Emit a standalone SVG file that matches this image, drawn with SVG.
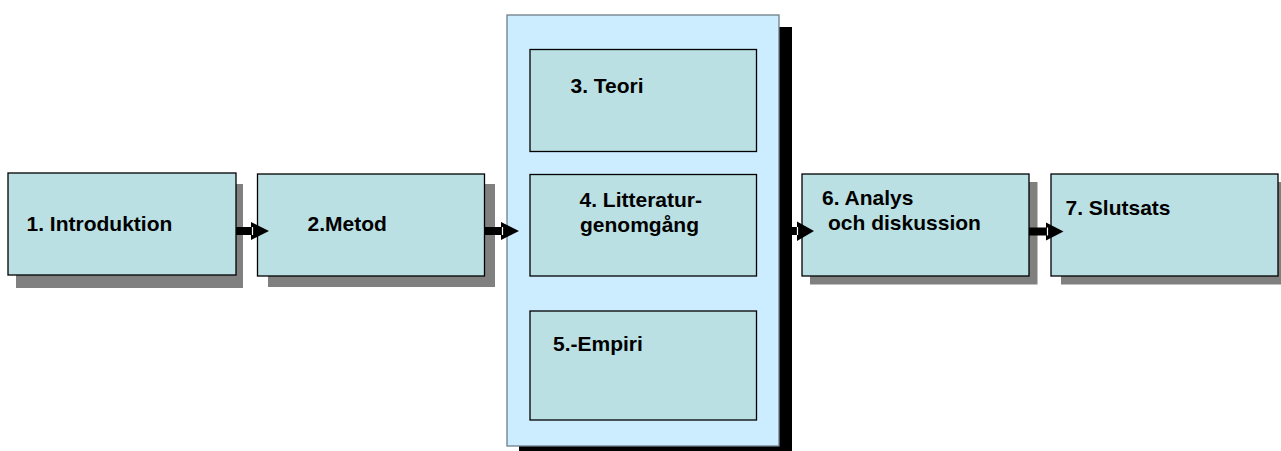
<svg xmlns="http://www.w3.org/2000/svg" width="1281" height="451" viewBox="0 0 1281 451">
<style>
.box{fill:#BBE0E3;stroke:#000;stroke-width:1.3}
.shadow{fill:#808080}
.cont{fill:#CCECFF;stroke:#6f7f88;stroke-width:1.3}
.lbl{font-family:"Liberation Sans",Arial,sans-serif;font-weight:bold;font-size:21px;fill:#000}
.arr{fill:#000}
.notch{stroke:#fff;stroke-width:1.2}
</style>
<rect width="1281" height="451" fill="#fff"/>
<g id="node1">
<rect class="shadow" x="16" y="184" width="227" height="104"/>
<rect class="box" x="8" y="173" width="228" height="102"/>
<text class="lbl" x="26.5" y="231">1. Introduktion</text>
</g>
<g id="node2">
<rect class="shadow" x="268" y="184" width="227" height="103"/>
<rect class="box" x="257.5" y="174" width="227" height="102"/>
<text class="lbl" x="307.5" y="231">2.Metod</text>
</g>
<g id="container">
<rect x="519" y="27" width="273" height="430" fill="#000"/>
<rect class="cont" x="507" y="15" width="272" height="431"/>
</g>
<g id="node3">
<rect class="box" x="530" y="49.5" width="226.5" height="102"/>
<text class="lbl" x="570.5" y="92.5">3. Teori</text>
</g>
<g id="node4">
<rect class="box" x="530" y="174.5" width="226.5" height="101.5"/>
<text class="lbl" x="579.5" y="207">4. Litteratur-</text>
<text class="lbl" x="580" y="231.5">genomgång</text>
</g>
<g id="node5">
<rect class="box" x="530" y="311" width="226.5" height="109"/>
<text class="lbl" x="553" y="351">5.-Empiri</text>
</g>
<g id="node6">
<rect class="shadow" x="810" y="182" width="227.5" height="102.5"/>
<rect class="box" x="802" y="174" width="227" height="102"/>
<text class="lbl" x="822" y="205">6. Analys</text>
<text class="lbl" x="828" y="229.5">och diskussion</text>
</g>
<g id="node7">
<rect class="shadow" x="1061" y="182" width="225" height="102.5"/>
<rect class="box" x="1051" y="174" width="227" height="102"/>
<text class="lbl" x="1065.5" y="215">7. Slutsats</text>
</g>
<g id="connectors">
<rect class="arr" x="236" y="227" width="16" height="8"/>
<polygon class="arr" points="251,222 269,231 251,240"/>
<line class="notch" x1="252.5" y1="227" x2="252.5" y2="235"/>
<rect class="arr" x="485" y="227" width="17" height="8"/>
<polygon class="arr" points="501,222 519,231 501,240"/>
<line class="notch" x1="502.5" y1="227" x2="502.5" y2="235"/>
<rect class="arr" x="780" y="227" width="18" height="8"/>
<polygon class="arr" points="797,221.5 814,231 797,241"/>
<line class="notch" x1="797.5" y1="227" x2="797.5" y2="235"/>
<rect class="arr" x="1029" y="227.5" width="18" height="8"/>
<polygon class="arr" points="1046,222.5 1063.5,231.5 1046,240.5"/>
<line class="notch" x1="1047.5" y1="227.5" x2="1047.5" y2="235.5"/>
</g>
</svg>
